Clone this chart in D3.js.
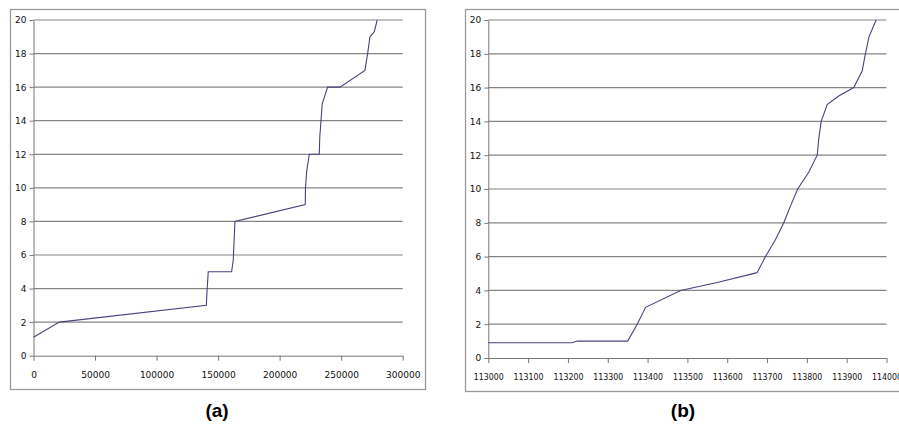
<!DOCTYPE html>
<html lang="en">

<head>
  <meta charset="UTF-8">
  <title>Two cumulative curves</title>
  <script src="https://cdn.jsdelivr.net/npm/d3@7.9.0/dist/d3.min.js"></script>
  <style>
    html,
    body {
      margin: 0;
      padding: 0;
      background: #fff;
    }

    svg {
      display: block;
    }

    .tick text {
      font-family: "DejaVu Sans", sans-serif;
      font-size: 9px;
      fill: #111;
    }

    .caption {
      font-family: "Liberation Sans", Arial, sans-serif;
      font-weight: bold;
      font-size: 19px;
      fill: #000;
    }
  </style>
</head>

<body>
  <svg id="chart" width="899" height="425"></svg>

  <script>
    // --- Data ---
    // panel (a)
    const aX = [0, 21000, 140500, 140800, 142000, 161000, 162300, 163700, 220800, 221000, 222000, 224100,
      232200, 232600, 233600, 234600, 239000, 249000, 269300, 271500, 273400, 276900, 279300];
    const aY = [1.1, 2, 3, 3.6, 5, 5, 5.7, 8, 9, 10, 11, 12,
      12, 13, 14, 15, 16, 16, 17, 18, 19, 19.3, 20];
    const aTicks = [0, 50000, 100000, 150000, 200000, 250000, 300000];

    // panel (b)
    const bX = [113000, 113210, 113223, 113350, 113374, 113395, 113483, 113580, 113675, 113696, 113721,
      113742, 113759, 113777, 113805, 113826, 113830, 113836, 113851, 113880, 113918, 113939, 113947,
      113956, 113974];
    const bY = [0.9, 0.9, 1, 1, 2, 3, 4, 4.5, 5.05, 6, 7,
      8, 9, 10, 11, 12, 13, 14, 15, 15.5, 16, 17, 18,
      19, 20];
    const bTicks = [113000, 113100, 113200, 113300, 113400, 113500, 113600, 113700, 113800, 113900, 114000];

    const yTicks = [0, 2, 4, 6, 8, 10, 12, 14, 16, 18, 20];

    const svg = d3.select("#chart");

    const panels = [
      {
        xs: aX, ys: aY, ticks: aTicks, domain: [0, 300000], caption: "(a)",
        frame: [10, 9, 415, 380], plot: [33.5, 402.7, 20, 355.7], labelW: null
      },
      {
        xs: bX, ys: bY, ticks: bTicks, domain: [113000, 114000], caption: "(b)",
        frame: [465, 9, 445, 382], plot: [488.3, 886.5, 20, 358], labelW: 30
      }
    ];

    const drawPanel = (p) => {
      const g = svg.append("g");
      const [fx, fy, fw, fh] = p.frame;
      const [left, right, top, bottom] = p.plot;

      // outer frame
      g.append("rect")
        .attr("x", fx + 0.5).attr("y", fy + 0.5)
        .attr("width", fw).attr("height", fh)
        .attr("fill", "#fff")
        .attr("stroke", "#9a9a9a")
        .attr("stroke-width", 1.3);

      const x = d3.scaleLinear().domain(p.domain).range([left, right]);
      const y = d3.scaleLinear().domain([0, 20]).range([bottom, top]);

      // horizontal gridlines
      g.append("g")
        .selectAll("line")
        .data(yTicks.filter(d => d > 0))
        .join("line")
        .attr("x1", left).attr("x2", right)
        .attr("y1", d => y(d)).attr("y2", d => y(d))
        .attr("stroke", "#858585")
        .attr("stroke-width", 1.2);

      // axes
      const xAxis = g.append("g")
        .attr("transform", `translate(0,${bottom})`)
        .call(d3.axisBottom(x).tickValues(p.ticks).tickFormat(d3.format("d"))
          .tickSize(5).tickSizeOuter(0).tickPadding(11));
      xAxis.selectAll("path, line").attr("stroke", "#777");
      if (p.labelW) {
        xAxis.selectAll("text")
          .attr("textLength", p.labelW)
          .attr("lengthAdjust", "spacingAndGlyphs");
      }

      const yAxis = g.append("g")
        .attr("transform", `translate(${left},0)`)
        .call(d3.axisLeft(y).tickValues(yTicks).tickSize(4).tickSizeOuter(0).tickPadding(3));
      yAxis.selectAll("path, line").attr("stroke", "#777");

      // data line
      const line = d3.line()
        .x((d, i) => x(p.xs[i]))
        .y(d => y(d));
      g.append("path")
        .datum(p.ys)
        .attr("d", line)
        .attr("fill", "none")
        .attr("stroke", "#45457e")
        .attr("stroke-width", 1.1);

      // caption under the panel
      svg.append("text")
        .attr("class", "caption")
        .attr("x", p === panels[0] ? 217 : 683)
        .attr("y", 417)
        .attr("text-anchor", "middle")
        .text(p.caption);
    };

    panels.forEach(drawPanel);
  </script>
</body>

</html>
